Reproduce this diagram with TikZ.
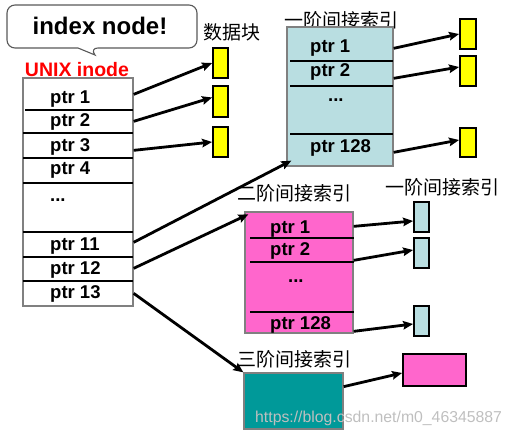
\documentclass[tikz,border=0pt]{standalone}
\usepackage{fontspec}
\setmainfont{Liberation Sans}
\newfontfamily\cjk{Noto Sans CJK SC}
\usetikzlibrary{arrows.meta,calc}
\definecolor{lblue}{RGB}{185,222,225}
\definecolor{pinkc}{RGB}{255,102,204}
\definecolor{tealc}{RGB}{0,153,153}
\definecolor{yel}{RGB}{255,255,0}
\definecolor{bordergray}{RGB}{128,128,128}
\begin{document}
\begin{tikzpicture}[x=1pt,y=-1pt,
  ptr/.style={font=\fontsize{18.5}{20}\selectfont\bfseries, anchor=base west, inner sep=0pt},
  cn/.style={font=\cjk\fontsize{19}{20}\selectfont, inner sep=0pt},
  sep/.style={line width=2pt},
  arr/.style={line width=2.8pt, -{Stealth[length=10pt,width=8.5pt,inset=1.5pt]}},
  blk/.style={draw=black, line width=1.8pt, inner sep=0pt},
  bigbox/.style={draw=bordergray, line width=1.3pt, inner sep=0pt}]
\useasboundingbox (0,0) rectangle (512,436);

% callout bubble
\draw[rounded corners=8pt, draw=black!65, line width=1.1pt, fill=white]
  (7,5) -- (197,5) -- (197,48) -- (90,48) [sharp corners] -- (95,55) -- (78,48) [rounded corners=8pt] -- (7,48) -- cycle;
\node[font=\fontsize{24}{26}\selectfont\bfseries, anchor=base, inner sep=0pt] (title) at (100,35) {index node!};

% UNIX inode
\node[font=\fontsize{19.5}{21}\selectfont\bfseries, text=red, anchor=base, inner sep=0pt] (unixlab) at (77,77) {UNIX inode};
\node[bigbox, fill=white, minimum width=110pt, minimum height=228pt] (inode) at (78,192) {};
\draw[sep] (25,110) -- (133,110);
\foreach \yy in {133,158,183,232,257,281} \draw[sep] (23,\yy) -- (133,\yy);
\node[ptr] (i1) at (50,104) {ptr 1};
\node[ptr] (i2) at (50,127) {ptr 2};
\node[ptr] (i3) at (50,151) {ptr 3};
\node[ptr] (i4) at (50,175) {ptr 4};
\node[ptr] (idots) at (50,201) {...};
\node[ptr] (i11) at (50,250) {ptr 11};
\node[ptr] (i12) at (50,274) {ptr 12};
\node[ptr] (i13) at (50,298) {ptr 13};

% data blocks
\node[cn] (datalab) at (232,32) {数据块};
\node[blk, fill=yel, minimum width=15pt, minimum height=30pt] (d1) at (220.5,63) {};
\node[blk, fill=yel, minimum width=15pt, minimum height=31pt] (d2) at (220.5,101.5) {};
\node[blk, fill=yel, minimum width=15pt, minimum height=30pt] (d3) at (220.5,142) {};

% first-order index
\node[cn] (l1lab) at (341,20) {一阶间接索引};
\node[bigbox, fill=lblue, minimum width=106pt, minimum height=139pt] (L1) at (340,96.5) {};
\foreach \yy in {61,86,134} \draw[sep] (290,\yy) -- (393,\yy);
\node[ptr] (a1) at (310,53) {ptr 1};
\node[ptr] (a2) at (310,77) {ptr 2};
\node[ptr] (adots) at (328,102) {...};
\node[ptr] (a128) at (310,152) {ptr 128};
\node[blk, fill=yel, minimum width=16pt, minimum height=30pt] (e1) at (468,34) {};
\node[blk, fill=yel, minimum width=16pt, minimum height=30pt] (e2) at (468,71) {};
\node[blk, fill=yel, minimum width=16pt, minimum height=29pt] (e3) at (468,142.5) {};

% second-order index
\node[cn] (l2lab) at (294,193) {二阶间接索引};
\node[bigbox, fill=pinkc, minimum width=108pt, minimum height=121pt] (L2) at (299,272.5) {};
\foreach \yy in {238,262,312} \draw[sep] (250,\yy) -- (354,\yy);
\node[ptr] (b1) at (270,233) {ptr 1};
\node[ptr] (b2) at (270,255) {ptr 2};
\node[ptr] (bdots) at (288,282) {...};
\node[ptr] (b128) at (270,329) {ptr 128};
\node[cn] (l21lab) at (442,187) {一阶间接索引};
\node[blk, fill=lblue, minimum width=15pt, minimum height=30pt] (f1) at (421.5,217) {};
\node[blk, fill=lblue, minimum width=15pt, minimum height=30pt] (f2) at (421.5,253) {};
\node[blk, fill=lblue, minimum width=15pt, minimum height=30pt] (f3) at (421.5,321) {};

% third-order index
\node[cn] (l3lab) at (294,359) {三阶间接索引};
\node[bigbox, fill=tealc, minimum width=99pt, minimum height=56pt] (L3) at (293.5,401) {};
\node[blk, fill=pinkc, minimum width=63pt, minimum height=32pt] (g) at (434.5,370) {};

% arrows from inode
\draw[arr] ($(inode.north east)+(0,17)$) -- (d1.west);
\draw[arr] ($(inode.north east)+(0,44)$) -- ($(d2.west)+(0,-4)$);
\draw[arr] ($(inode.north east)+(0,73)$) -- (d3.west);
\draw[arr] ($(inode.north east)+(0,165)$) -- ($(L1.south west)+(5,-6)$);
\draw[arr] ($(inode.north east)+(0,191)$) -- ($(L2.north west)+(4,3)$);
\draw[arr] ($(inode.north east)+(0,216)$) -- (L3.north west);

% arrows from first-order
\draw[arr] ($(L1.north east)+(0,22)$) -- (e1.west);
\draw[arr] ($(L1.north east)+(0,52)$) -- ($(e2.west)+(0,-4)$);
\draw[arr] ($(L1.north east)+(0,126)$) -- ($(e3.west)+(0,-2.5)$);

% arrows from second-order
\draw[arr] ($(L2.north east)+(0,15)$) -- ($(f1.west)+(0,4)$);
\draw[arr] ($(L2.north east)+(0,49)$) -- ($(f2.west)+(0,-3)$);
\draw[arr] ($(L2.north east)+(0,120)$) -- ($(f3.west)+(0,3)$);

% arrow from third-order
\draw[arr] ($(L3.south east)+(0,-43)$) -- ($(g.west)+(0,3)$);

% watermark
\node[font=\fontsize{15.8}{17}\selectfont, text=black!25, anchor=base west, inner sep=0pt] (wm) at (255,422) {https://blog.csdn.net/m0\_46345887};
\end{tikzpicture}
\end{document}
